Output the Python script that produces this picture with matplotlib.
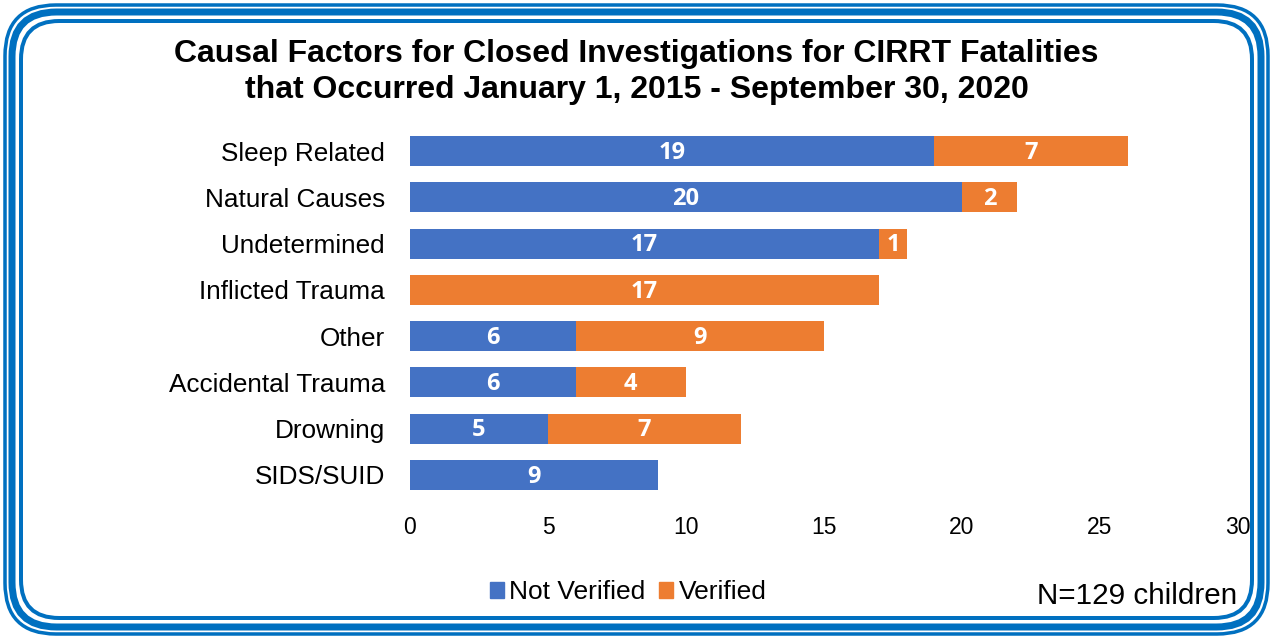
import matplotlib
matplotlib.use("Agg")
import matplotlib.pyplot as plt
from matplotlib.patches import FancyBboxPatch, Patch

categories = ["Sleep Related", "Natural Causes", "Undetermined", "Inflicted Trauma",
              "Other", "Accidental Trauma", "Drowning", "SIDS/SUID"]
not_verified = [19, 20, 17, 0, 6, 6, 5, 9]
verified = [7, 2, 1, 17, 9, 4, 7, 0]
x_ticks = [0, 5, 10, 15, 20, 25, 30]

BLUE = "#4472C4"
ORANGE = "#ED7D31"
FRAME = "#0070C0"

plt.rcParams["font.family"] = ["Liberation Sans", "DejaVu Sans"]

W, H = 1273, 639
fig = plt.figure(figsize=(W / 100, H / 100), dpi=100)

# triple rounded frame (inset px, width px, rounding)
for pad, lw, r in [(5, 3.5, 0.040), (12, 7.0, 0.035), (21, 4.0, 0.030)]:
    box = FancyBboxPatch((pad / W, pad / H), 1 - 2 * pad / W, 1 - 2 * pad / H,
                         boxstyle="round,pad=0,rounding_size=%g" % r,
                         transform=fig.transFigure, fill=False,
                         edgecolor=FRAME, linewidth=lw * 0.72, mutation_aspect=W / H)
    fig.patches.append(box)

ax = fig.add_axes([410 / W, 1 - 498 / H, (1238 - 410) / W, (498 - 128) / H])
y = list(range(len(categories)))
ax.barh(y, not_verified, height=0.65, color=BLUE, label="Not Verified")
ax.barh(y, verified, left=not_verified, height=0.65, color=ORANGE, label="Verified")

for i in y:
    nv, v = not_verified[i], verified[i]
    if nv:
        ax.text(nv / 2, i + 0.04, str(nv), ha="center", va="center", color="white",
                fontsize=17, fontweight="bold", family="Open Sans")
    if v:
        ax.text(nv + v / 2, i + 0.04, str(v), ha="center", va="center", color="white",
                fontsize=17, fontweight="bold", family="Open Sans")

ax.set_xlim(0, 30)
ax.set_ylim(len(categories) - 0.5, -0.5)
ax.set_yticks(y)
ax.set_yticklabels(categories, fontsize=18.8)
ax.set_xticks(x_ticks)
ax.tick_params(axis="x", labelsize=16.5, length=0, pad=13)
ax.tick_params(axis="y", length=0, pad=18)
for s in ax.spines.values():
    s.set_visible(False)

fig.text(0.5, 1 - 54 / H, "Causal Factors for Closed Investigations for CIRRT Fatalities",
         ha="center", va="center", fontsize=23, fontweight="bold")
fig.text(0.5, 1 - 90 / H, "that Occurred January 1, 2015 - September 30, 2020",
         ha="center", va="center", fontsize=23, fontweight="bold")

handles = [Patch(color=BLUE), Patch(color=ORANGE)]
fig.legend(handles, ["Not Verified", "Verified"], loc="center",
           bbox_to_anchor=(628 / W, 1 - 592 / H), ncol=2, frameon=False,
           fontsize=19, handlelength=0.55, handleheight=0.55, handletextpad=0.2,
           columnspacing=0.5)

fig.text(1237 / W, 1 - 596 / H, "N=129 children", ha="right", va="center", fontsize=21.3)

fig.savefig("out.png", dpi=100)
